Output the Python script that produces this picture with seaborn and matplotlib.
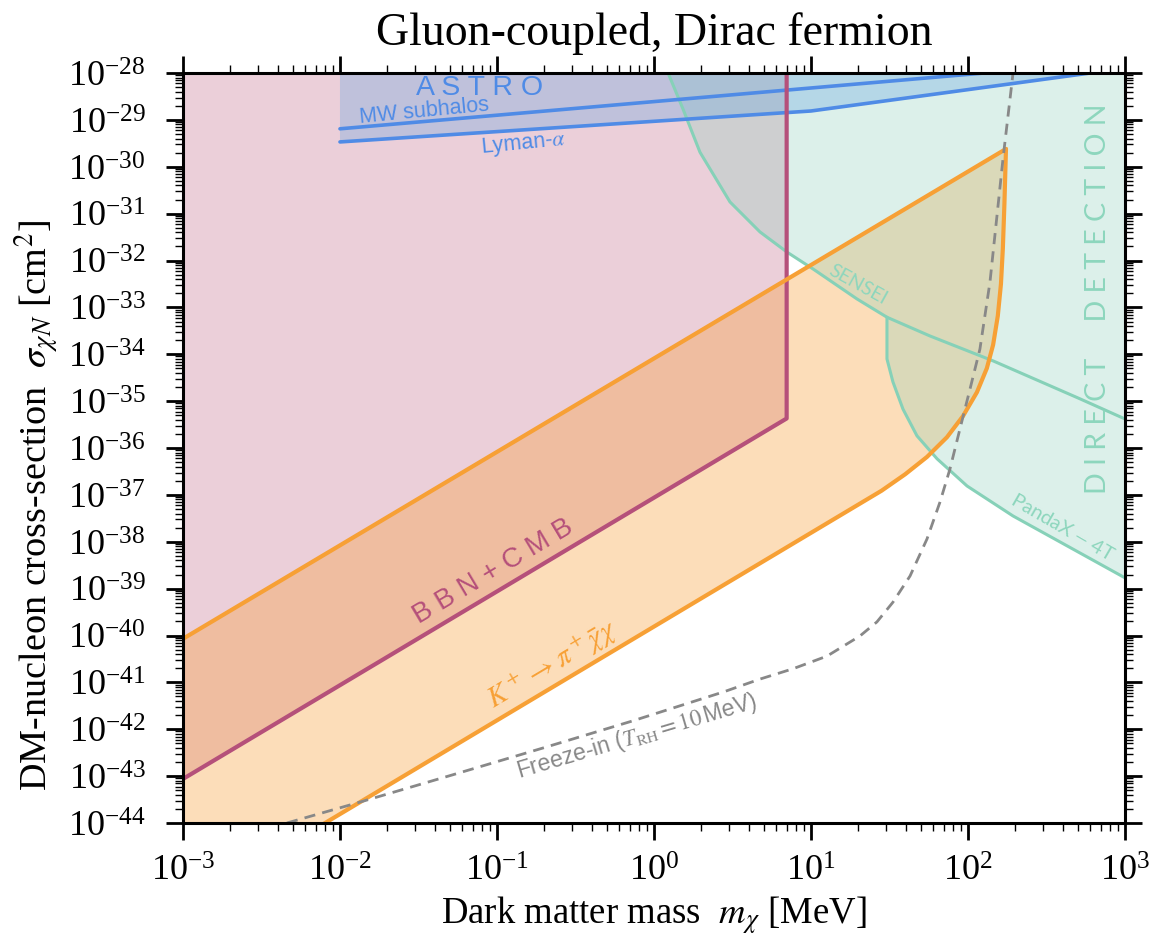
import numpy as np
import matplotlib
matplotlib.use("Agg")
import matplotlib.pyplot as plt
import matplotlib.ticker as mticker
import seaborn as sns

# Boundaries as log10(mass / MeV) and log10(sigma / cm^2)
bbn_logm = [-3.0, 0.845, 0.845]
bbn_logs = [-43.06, -35.37, -28.0]

kaon_upper_logm = [-3.0, 2.242]
kaon_upper_logs = [-40.07, -29.62]
kaon_lower_logm = [-3.0, 1.45, 1.60, 1.739, 1.866, 1.968, 2.057, 2.12, 2.16, 2.19,
                   2.21, 2.222, 2.232, 2.242]
kaon_lower_logs = [-45.81, -36.91, -36.56, -36.19, -35.77, -35.32, -34.81, -34.30, -33.80,
                   -33.18, -32.50, -31.75, -30.80, -29.62]

mw_logm = [-2.0, 2.1]
mw_logs = [-29.19, -28.0]
lyman_logm = [-2.0, 1.0, 2.777]
lyman_logs = [-29.47, -28.81, -28.0]

sensei_logm = [0.09, 0.185, 0.293, 0.484, 0.675, 0.847, 1.013, 1.293, 1.484, 1.758, 2.159, 2.713, 3.0]
sensei_logs = [-28.0, -28.77, -29.69, -30.75, -31.39, -31.82, -32.18, -32.82, -33.21, -33.61, -34.14, -34.95, -35.38]

pandax_logm = [1.484, 1.484, 1.522, 1.586, 1.675, 1.803, 1.994, 2.287, 3.0]
pandax_logs = [-33.21, -34.10, -34.59, -35.17, -35.74, -36.23, -36.81, -37.45, -38.77]

freezein_logm = [-2.338, -1.879, -1.280, -0.707, -0.134, 0.446, 0.675, 0.885, 1.102, 1.312,
                 1.420, 1.522, 1.631, 1.739, 1.822, 1.885, 1.949, 2.013, 2.076, 2.140,
                 2.223, 2.287]
freezein_logs = [-44.0, -43.56, -42.97, -42.40, -41.82, -41.20, -40.93, -40.71, -40.44, -40.01,
                 -39.71, -39.29, -38.73, -37.94, -37.15, -36.45, -35.59, -34.74, -33.89, -32.46,
                 -29.83, -28.0]

# Decade ticks
x_tick_exps = list(range(-3, 4))
y_tick_exps = list(range(-44, -27))

m_limits = (1e-3, 1e3)
sigma_limits = (1e-44, 1e-28)

PINK = "#b5507a"
ORANGE = "#f7a035"
BLUE = "#4f8be6"
GREEN = "#86d1b8"
GREEN_TXT = "#8dd6bd"
GREY = "#888888"


def pw(a):
    return 10.0 ** np.asarray(a, dtype=float)


sns.set_theme(style="ticks")
plt.rcParams["font.family"] = ["Liberation Serif", "DejaVu Serif"]
plt.rcParams["mathtext.fontset"] = "stix"
plt.rcParams["text.color"] = "black"
plt.rcParams["axes.labelcolor"] = "black"
plt.rcParams["xtick.color"] = "black"
plt.rcParams["ytick.color"] = "black"

fig = plt.figure(figsize=(11.53, 9.37), dpi=100)
ax = fig.add_axes([0.1587, 0.1206, 0.8170, 0.8004])
ax.set_xscale("log")
ax.set_yscale("log")

# Filled exclusion regions
ax.fill(np.r_[pw(bbn_logm), m_limits[0]], np.r_[pw(bbn_logs), sigma_limits[1]],
        color=(192/255, 98/255, 132/255), alpha=0.3, lw=0, zorder=1)
ax.fill(np.r_[pw(kaon_upper_logm), pw(kaon_lower_logm)[::-1]],
        np.r_[pw(kaon_upper_logs), pw(kaon_lower_logs)[::-1]],
        color=(249/255, 158/255, 55/255), alpha=0.35, lw=0, zorder=1.1)
ax.fill(np.r_[pw(sensei_logm[:9]), pw(pandax_logm), m_limits[1]],
        np.r_[pw(sensei_logs[:9]), pw(pandax_logs), sigma_limits[1]],
        color=(142/255, 208/255, 188/255), alpha=0.3, lw=0, zorder=1.2)
ax.fill(np.r_[pw(lyman_logm), pw(lyman_logm[0])], np.r_[pw(lyman_logs), sigma_limits[1]],
        color=(100/255, 165/255, 225/255), alpha=0.32, lw=0, zorder=1.3)

# Boundary curves
line_kw = dict(sort=False, estimator=None, ax=ax, legend=False)
sns.lineplot(x=pw(sensei_logm), y=pw(sensei_logs), color=GREEN, lw=2.2, **line_kw)
sns.lineplot(x=pw(pandax_logm), y=pw(pandax_logs), color=GREEN, lw=2.2, **line_kw)
sns.lineplot(x=pw(mw_logm), y=pw(mw_logs), color=BLUE, lw=2.6, **line_kw)
sns.lineplot(x=pw(lyman_logm), y=pw(lyman_logs), color=BLUE, lw=2.6, **line_kw)
sns.lineplot(x=pw(bbn_logm), y=pw(bbn_logs), color=PINK, lw=3.0, **line_kw)
sns.lineplot(x=pw(kaon_upper_logm), y=pw(kaon_upper_logs), color=ORANGE, lw=3.0, **line_kw)
sns.lineplot(x=pw(kaon_lower_logm), y=pw(kaon_lower_logs), color=ORANGE, lw=3.0, **line_kw)
sns.lineplot(x=pw(freezein_logm), y=pw(freezein_logs), color=GREY, lw=2.0,
             linestyle=(0, (4, 2.6)), **line_kw)
for ln in ax.lines:
    ln.set_zorder(3)
    ln.set_solid_joinstyle("round")

ax.set_xlim(*m_limits)
ax.set_ylim(*sigma_limits)

# Region labels
sans = ["Liberation Sans", "DejaVu Sans"]
soft = ["Lato", "DejaVu Sans"]
ax.text(pw(-1.108), pw(-28.30), "A S T R O", color=BLUE, fontsize=20.5, family=sans,
        ha="center", va="center", zorder=5)
ax.text(pw(-1.465), pw(-28.80), "MW subhalos", color=BLUE, fontsize=15.5, family=sans,
        ha="center", va="center", rotation=5.5, zorder=5)
ax.text(pw(-0.834), pw(-29.50), r"Lyman-$\alpha$", color=BLUE, fontsize=15.5, family=sans,
        ha="center", va="center", rotation=5.5, zorder=5)
ax.text(pw(-1.025), pw(-38.62), "B B N + C M B", color=PINK, fontsize=20, family=sans,
        ha="center", va="center", rotation=30.8, rotation_mode="anchor", zorder=5)
ax.text(pw(-0.643), pw(-40.62), r"$K^+ \to \pi^+ \bar{\chi}\chi$", color=ORANGE, fontsize=21,
        ha="center", va="center", rotation=30.8, rotation_mode="anchor", zorder=5)
ax.text(pw(-0.108), pw(-42.14), r"Freeze-in ($T_{\rm RH} = 10\,$MeV)", color=GREY,
        fontsize=16.5, family=sans, ha="center", va="center", rotation=16.5,
        rotation_mode="anchor", zorder=5)
ax.text(pw(1.299), pw(-32.50), "SENSEI", color=GREEN_TXT, fontsize=14, family=soft,
        ha="center", va="center", rotation=-29, rotation_mode="anchor", zorder=5)
ax.text(pw(2.605), pw(-37.66), r"PandaX $-$ 4T", color=GREEN_TXT, fontsize=14.5, family=soft,
        ha="center", va="center", rotation=-30, rotation_mode="anchor", zorder=5)
ax.text(pw(2.828), pw(-32.80), "D I R E C T     D E T E C T I O N", color=GREEN_TXT,
        fontsize=20.5, family=soft, ha="center", va="center", rotation=90, zorder=5)

# Axes styling
ax.xaxis.set_major_locator(mticker.FixedLocator(pw(x_tick_exps)))
ax.yaxis.set_major_locator(mticker.FixedLocator(pw(y_tick_exps)))
ax.xaxis.set_major_formatter(mticker.LogFormatterSciNotation())
ax.yaxis.set_major_formatter(mticker.LogFormatterSciNotation())
ax.xaxis.set_minor_locator(mticker.LogLocator(base=10, subs=np.arange(2, 10), numticks=100))
ax.yaxis.set_minor_locator(mticker.LogLocator(base=10, subs=np.arange(2, 10), numticks=200))
ax.xaxis.set_minor_formatter(mticker.NullFormatter())
ax.yaxis.set_minor_formatter(mticker.NullFormatter())
ax.tick_params(which="both", direction="out", top=True, right=True, color="black")
ax.tick_params(which="major", length=12, width=2.0, labelsize=26)
ax.tick_params(which="minor", length=6, width=1.0)
ax.tick_params(axis="y", which="major", pad=15)
ax.tick_params(axis="x", which="major", pad=11)
for sp in ax.spines.values():
    sp.set_linewidth(2.2)
    sp.set_color("black")
    sp.set_zorder(6)

ax.set_xlabel(r"Dark matter mass  $m_\chi$ [MeV]", fontsize=26.5, labelpad=4)
ax.set_ylabel(r"DM-nucleon cross-section  $\sigma_{\chi N}$ [cm$^2$]", fontsize=27.5)
ax.yaxis.set_label_coords(-0.130, 0.425)
ax.set_title("Gluon-coupled, Dirac fermion", fontsize=33, pad=21)

fig.savefig("out.png", dpi=100)
